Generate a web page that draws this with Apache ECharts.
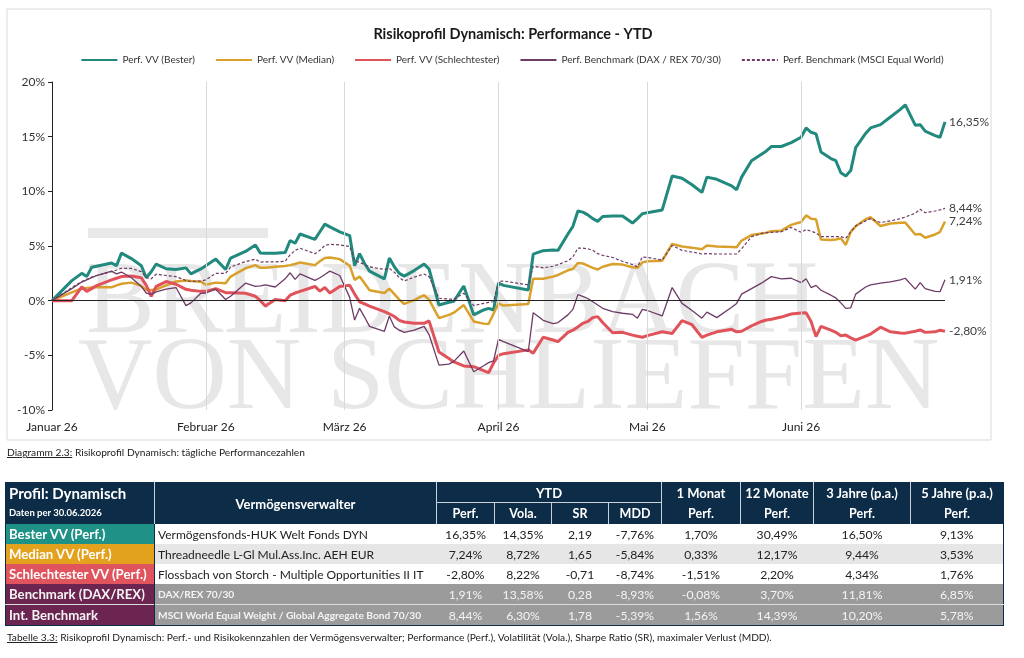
<!DOCTYPE html>
<html lang="de">
<head>
<meta charset="utf-8">
<title>Risikoprofil Dynamisch: Performance - YTD</title>
<script src="https://cdn.jsdelivr.net/npm/echarts@6/dist/echarts.min.js"></script>
<style>
  html, body { margin: 0; padding: 0; background: #fff; }
  body { width: 1024px; height: 658px; position: relative; overflow: hidden;
         font-family: Lato, 'Liberation Sans', sans-serif; }
  #chart { position: absolute; left: 0; top: 0; width: 1024px; height: 658px; }
  .cap { position: absolute; left: 7px; font-size: 10.2px; color: #222; white-space: nowrap; }
  #tbl { position: absolute; left: 5px; top: 482px; width: 998px; border-collapse: collapse;
         table-layout: fixed; border: 1px solid #0c2c47; }
  #tbl th { background: #0c2c47; color: #fff; font-weight: bold; padding: 0; text-align: center;
            border-left: 1px solid #c9d1d9; white-space: nowrap; overflow: hidden; }
  #tbl tr.h1 th { height: 19px; font-size: 13px; }
  #tbl tr.h2 th { height: 21px; font-size: 12.5px; }
  #tbl th.ytd { border-bottom: 1px solid #c9d1d9; }
  #tbl th.prof { text-align: left; padding-left: 3px; border-left: none; vertical-align: top; }
  #tbl th.vv { font-size: 15.5px; }
  .p1 { font-size: 15px; line-height: 19px; padding-top: 1px; }
  .p2 { font-size: 9.5px; line-height: 14px; margin-top: 3px; }
  #tbl td { height: 20px; padding: 0; font-size: 12.2px; text-align: center; white-space: nowrap;
            overflow: hidden; color: #222; }
  #tbl td.lab { color: #fff; font-weight: bold; font-size: 13.2px; text-align: left; padding-left: 3px;
                border-right: 1px solid #0c2c47; }
  #tbl td.nm { text-align: left; padding-left: 3px; font-size: 12px; }
  #tbl tr.med td { background: #e6e6e6; }
  #tbl tr.bm td { background: #9b9b9b; color: #f4f4f4; }
  #tbl tr.bm td.nm { font-size: 10.2px; font-weight: bold; }
  #tbl tr.int td { border-top: 1px solid #dcdcdc; }
</style>
</head>
<body>
<div id="chart"></div>
<div class="cap" style="top:446px"><u>Diagramm 2.3:</u> Risikoprofil Dynamisch: tägliche Performancezahlen</div>
<table id="tbl">
  <colgroup>
    <col style="width:149px"><col style="width:282px"><col style="width:58px"><col style="width:57px">
    <col style="width:57px"><col style="width:53px"><col style="width:79px"><col style="width:73px">
    <col style="width:97px"><col style="width:93px">
  </colgroup>
  <thead>
    <tr class="h1">
      <th rowspan="2" class="prof"><div class="p1">Profil: Dynamisch</div><div class="p2">Daten per 30.06.2026</div></th>
      <th rowspan="2" class="vv">Vermögensverwalter</th>
      <th colspan="4" class="ytd">YTD</th>
      <th>1 Monat</th><th>12 Monate</th><th>3 Jahre (p.a.)</th><th>5 Jahre (p.a.)</th>
    </tr>
    <tr class="h2">
      <th>Perf.</th><th>Vola.</th><th>SR</th><th>MDD</th>
      <th>Perf.</th><th>Perf.</th><th>Perf.</th><th>Perf.</th>
    </tr>
  </thead>
  <tbody id="tb"></tbody>
</table>
<div class="cap" style="top:631px"><u>Tabelle 3.3:</u> Risikoprofil Dynamisch: Perf.- und Risikokennzahlen der Vermögensverwalter; Performance (Perf.), Volatilität (Vola.), Sharpe Ratio (SR), maximaler Verlust (MDD).</div>

<script>
// Handelstage (2026), Werte in %
const dates = [
  '01-01','01-05','01-07','01-08','01-09','01-10','01-13','01-14','01-15','01-17',
  '01-19','01-20','01-21','01-22','01-24','01-26','01-28','01-29','01-31','02-01',
  '02-03','02-05','02-06','02-09','02-11','02-12','02-13','02-15','02-17','02-18',
  '02-19','02-20','02-23','02-24','02-25','02-26','02-28','03-02','03-03','03-04',
  '03-05','03-06','03-09','03-10','03-11','03-12','03-13','03-15','03-17','03-18',
  '03-20','03-22','03-23','03-25','03-27','03-29','03-30','03-31','04-01','04-02',
  '04-07','04-08','04-10','04-12','04-13','04-15','04-16','04-17','04-18','04-19',
  '04-20','04-21','04-22','04-24','04-26','04-28','04-29','04-30','05-01','05-04',
  '05-06','05-08','05-10','05-12','05-13','05-15','05-18','05-19','05-20','05-22',
  '05-24','05-25','05-26','05-28','05-30','06-01','06-02','06-03','06-04','06-05',
  '06-07','06-08','06-09','06-10','06-11','06-12','06-14','06-15','06-17','06-19',
  '06-21','06-22','06-24','06-25','06-26','06-28','06-29','06-30'
];

const perfBester = [
  0, 1.83, 2.5, 2.2, 3.05, 3.15, 3.45, 3.2, 4.35, 3.85,
  3.2, 2.1, 2.65, 3.35, 2.92, 2.85, 3.0, 2.45, 2.9, 3.2,
  3.8, 2.85, 3.9, 4.5, 5.1, 4.35, 4.33, 4.33, 4.4, 5.5,
  5.25, 6.1, 5.6, 6.3, 7.0, 6.75, 6.3, 5.95, 3.2, 4.3,
  3.4, 2.7, 2.0, 3.9, 3.1, 2.5, 2.25, 2.75, 3.35, 2.9,
  -0.4, -0.15, -0.05, 1.34, -1.3, -0.85, -0.7, -0.85, 1.6, 1.4,
  0.98, 4.25, 4.57, 4.64, 4.6, 6.1, 6.8, 8.2, 8.1, 7.85,
  7.5, 7.25, 7.7, 7.75, 7.75, 7.1, 7.5, 7.95, 8.05, 8.3,
  11.4, 11.2, 10.6, 9.9, 11.3, 11.1, 10.5, 10.15, 11.3, 12.8,
  13.4, 13.7, 14.1, 14.1, 14.45, 14.95, 15.8, 15.4, 15.25, 13.6,
  13.0, 12.8, 11.7, 11.4, 11.9, 14.0, 15.3, 15.8, 16.1, 16.8,
  17.5, 17.9, 16.05, 16.1, 15.5, 15.1, 14.95, 16.35
];

const perfMedian = [
  0, 0.75, 1.13, 1.15, 1.2, 1.22, 1.22, 1.4, 1.55, 1.65,
  1.35, 1.0, 0.97, 1.02, 1.4, 1.75, 1.85, 1.8, 1.74, 1.45,
  1.65, 1.6, 2.2, 2.96, 3.25, 3.0, 3.0, 3.1, 3.17, 3.25,
  3.35, 3.5, 3.25, 3.6, 3.9, 3.95, 3.8, 3.2, 1.9, 2.2,
  1.6, 0.95, 0.7, 1.1, 0.6, 0.1, -0.3, 0.05, 0.5, 0.1,
  -1.6, -1.3, -1.1, -0.4, -1.9, -2.1, -2.13, -1.2, -0.25, -0.45,
  -0.3, 2.0, 2.0, 2.2, 2.35, 2.78, 2.9, 3.45, 3.4, 3.2,
  3.0, 2.85, 3.1, 3.35, 3.3, 3.05, 3.0, 3.5, 3.6, 3.66,
  5.19, 4.95, 4.85, 4.7, 5.05, 4.95, 4.9, 4.88, 5.5, 6.0,
  6.15, 6.22, 6.35, 6.4, 6.93, 7.2, 7.8, 7.5, 7.45, 5.6,
  5.55, 5.6, 5.7, 5.1, 6.3, 6.8, 7.45, 7.63, 6.83, 7.05,
  7.12, 7.14, 6.05, 6.1, 5.75, 6.05, 6.3, 7.24
];

const perfSchlecht = [
  0, 0, 1.25, 0.85, 1.1, 1.38, 1.9, 2.05, 2.2, 2.25,
  2.1, 1.4, 0.4, 1.3, 1.75, 1.5, 1.04, 0.95, 0.85, 0.85,
  1.1, 0.73, 0.73, 0.68, 0.4, 0.0, -0.49, 0.1, 0.0, 0.5,
  0.7, 0.85, 1.3, 0.87, 1.2, 0.7, 1.3, 1.4, 0.6, -0.1,
  -0.3, -0.5, -1.0, -1.2, -1.45, -1.8, -1.95, -2.07, -2.07, -1.85,
  -4.7, -5.3, -5.6, -5.97, -6.04, -6.4, -6.59, -5.7, -5.0, -4.85,
  -4.5, -4.8, -3.35, -3.6, -3.75, -2.9, -2.7, -2.4, -2.07, -1.9,
  -1.55, -1.46, -2.0, -2.93, -2.9, -3.15, -3.25, -3.35, -3.2, -2.84,
  -3.0, -1.83, -2.2, -3.35, -3.15, -2.85, -2.62, -2.85, -2.8, -2.3,
  -1.9, -1.77, -1.7, -1.5, -1.22, -1.12, -1.1, -1.9, -3.29, -2.35,
  -2.7, -2.9, -3.2, -3.15, -3.4, -3.6, -3.25, -3.05, -2.43, -2.85,
  -2.95, -2.97, -2.8, -2.68, -2.9, -2.85, -2.7, -2.80
];

const perfDaxRex = [
  0, 1.1, 1.7, 1.9, 2.1, 2.3, 2.7, 2.45, 2.62, 2.1,
  1.3, 0.7, 0.57, 0.8, 1.05, 1.2, -0.45, -0.2, 0.67, 0.7,
  1.05, 0.1, 0.4, 1.6, 1.3, 1.35, 1.45, 1.25, 2.0, 2.55,
  1.95, 2.45, 1.85, 2.1, 2.4, 2.7, 2.3, 0.3, -1.77, -0.7,
  -1.5, -2.35, -2.8, -1.4, -2.4, -2.7, -2.9, -2.7, -2.35, -3.1,
  -5.9, -5.8, -5.55, -4.6, -6.5, -5.95, -5.67, -5.5, -3.53, -3.75,
  -4.67, -1.1, -1.8, -2.1, -2.0, -1.3, -0.8, 0.55, 0.4, 0.2,
  -0.1, -0.4, -0.7, -1.0, -1.15, -1.25, -1.6, -0.8, -0.9, -1.4,
  1.2, -0.25, -0.9, -1.6, -1.05, -1.55, -0.6, -0.25, 0.6, 1.1,
  1.6, 1.9, 2.2, 2.0, 2.05, 1.65, 2.0, 1.2, 1.4, 0.95,
  0.5, 0.25, -0.2, -0.7, -0.65, 0.6, 1.25, 1.44, 1.6, 1.72,
  1.9, 2.05, 1.05, 1.65, 1.1, 0.85, 0.82, 1.91
];

const perfMsci = [
  0, 1.2, 1.75, 1.95, 2.15, 2.3, 2.65, 2.8, 2.96, 2.95,
  2.65, 2.1, 2.0, 2.42, 2.3, 2.2, 1.85, 1.75, 1.8, 1.9,
  2.5, 2.5, 3.08, 3.57, 3.8, 3.52, 3.55, 3.55, 3.6, 4.2,
  4.6, 4.8, 4.3, 4.6, 5.05, 5.15, 5.1, 4.95, 3.7, 3.5,
  3.3, 3.1, 2.85, 2.95, 2.6, 2.1, 1.8, 2.15, 2.44, 2.2,
  0.22, 0.15, 0.13, 0.68, -0.45, -0.25, -0.15, -0.1, 1.74, 1.8,
  1.44, 3.15, 3.0, 3.15, 3.3, 3.65, 4.0, 4.8, 4.8, 4.75,
  4.6, 4.3, 4.15, 3.95, 3.6, 3.3, 3.1, 4.0, 3.95, 3.72,
  5.05, 4.6, 4.45, 4.27, 4.3, 4.27, 4.27, 4.27, 4.75, 5.85,
  6.15, 6.22, 6.25, 6.3, 6.7, 6.25, 6.5, 6.35, 6.2, 5.86,
  5.86, 5.86, 5.86, 5.72, 6.3, 6.85, 7.3, 7.5, 7.14, 7.3,
  7.5, 7.65, 8.0, 8.36, 8.05, 8.2, 8.3, 8.44
];

const monthNames = ['Januar', 'Februar', 'März', 'April', 'Mai', 'Juni'];
const monthStarts = ['2026-02-01', '2026-03-01', '2026-04-01', '2026-05-01', '2026-06-01'];

// Tabelle
const tableLabels = ['Bester VV (Perf.)', 'Median VV (Perf.)', 'Schlechtester VV (Perf.)', 'Benchmark (DAX/REX)', 'Int. Benchmark'];
const tableNames = ['Vermögensfonds-HUK Welt Fonds DYN', 'Threadneedle L-Gl Mul.Ass.Inc. AEH EUR',
  'Flossbach von Storch - Multiple Opportunities II IT', 'DAX/REX 70/30',
  'MSCI World Equal Weight / Global Aggregate Bond 70/30'];
const ytdPerf = ['16,35%', '7,24%', '-2,80%', '1,91%', '8,44%'];
const ytdVola = ['14,35%', '8,72%', '8,22%', '13,58%', '6,30%'];
const ytdSR = ['2,19', '1,65', '-0,71', '0,28', '1,78'];
const ytdMDD = ['-7,76%', '-5,84%', '-8,74%', '-8,93%', '-5,39%'];
const perf1M = ['1,70%', '0,33%', '-1,51%', '-0,08%', '1,56%'];
const perf12M = ['30,49%', '12,17%', '2,20%', '3,70%', '14,39%'];
const perf3J = ['16,50%', '9,44%', '4,34%', '11,81%', '10,20%'];
const perf5J = ['9,13%', '3,53%', '1,76%', '6,85%', '5,78%'];
const labelColors = ['#1f9186', '#e3a21d', '#e0555d', '#6c2450', '#6c2450'];
const rowClass = ['', 'med', '', 'bm', 'bm int'];

const FONT = "Lato, 'Liberation Sans', sans-serif";

// Tabelle aufbauen
const tb = document.getElementById('tb');
tableLabels.forEach((lab, i) => {
  const tr = document.createElement('tr');
  tr.className = rowClass[i];
  const cells = [ytdPerf[i], ytdVola[i], ytdSR[i], ytdMDD[i], perf1M[i], perf12M[i], perf3J[i], perf5J[i]];
  tr.innerHTML = '<td class="lab" style="background:' + labelColors[i] + '">' + lab + '</td>' +
    '<td class="nm">' + tableNames[i] + '</td>' +
    cells.map(c => '<td>' + c + '</td>').join('');
  tb.appendChild(tr);
});

function fmt(v) {
  return v.toFixed(2).replace('.', ',') + '%';
}

function makeSeries(name, values, color, width, dash) {
  return {
    name: name,
    type: 'line',
    data: dates.map((d, i) => ['2026-' + d, values[i]]),
    symbol: 'none',
    showSymbol: false,
    lineStyle: { color: color, width: width, type: dash || 'solid' },
    itemStyle: { color: color },
    endLabel: {
      show: true,
      formatter: p => fmt(p.value[1]),
      color: '#404040',
      fontSize: 12,
      fontFamily: FONT,
      distance: 4
    },
    z: 3
  };
}

const chart = echarts.init(document.getElementById('chart'));

const option = {
  animation: false,
  textStyle: { fontFamily: FONT },
  title: {
    text: 'Risikoprofil Dynamisch: Performance - YTD',
    left: 508,
    top: 22,
    textAlign: 'center',
    textStyle: { fontSize: 14.5, fontWeight: 'bold', color: '#1a1a1a', fontFamily: FONT }
  },
  legend: {
    top: 50,
    left: 'center',
    itemWidth: 36,
    itemHeight: 10,
    itemGap: 20,
    itemStyle: { opacity: 0 },
    data: ['Perf. VV (Bester)', 'Perf. VV (Median)', 'Perf. VV (Schlechtester)',
           'Perf. Benchmark (DAX / REX 70/30)', 'Perf. Benchmark (MSCI Equal World)'],
    textStyle: { fontSize: 10, color: '#333', fontFamily: FONT }
  },
  grid: { left: 52, right: 79, top: 82, bottom: 248, containLabel: false },
  xAxis: {
    type: 'time',
    min: '2026-01-01',
    max: '2026-06-30',
    maxInterval: 31 * 86400000,
    axisLine: { show: false },
    axisTick: { show: false },
    splitLine: { show: false },
    axisLabel: {
      fontSize: 12,
      color: '#222',
      margin: 11,
      fontFamily: FONT,
      formatter: function (value) {
        const d = new Date(value);
        return d.getDate() === 1 ? monthNames[d.getMonth()] + ' 26' : '';
      }
    }
  },
  yAxis: {
    type: 'value',
    min: -10,
    max: 20,
    interval: 5,
    axisLine: { show: true, lineStyle: { color: '#222', width: 1 } },
    axisTick: { show: true, length: 4, lineStyle: { color: '#222' } },
    splitLine: { show: false },
    axisLabel: { formatter: '{value}%', fontSize: 12, color: '#333', margin: 7, fontFamily: FONT }
  },
  graphic: [
    { type: 'rect', shape: { x: 7, y: 9, width: 984, height: 431 },
      style: { fill: 'none', stroke: '#d9d9d9', lineWidth: 1 }, z: 0, silent: true },
    { type: 'rect', shape: { x: 88, y: 228, width: 180, height: 10 },
      style: { fill: '#e8e8e8' }, z: 0, silent: true },
    { type: 'text', x: 86, y: 356, z: 0, silent: true,
      style: { text: 'BREIDENBACH', fill: '#e7e7e7', font: '103px "Liberation Serif", serif', verticalAlign: 'bottom' } },
    { type: 'text', x: 78, y: 432, z: 0, silent: true,
      style: { text: 'VON SCHLIEFFEN', fill: '#e7e7e7', font: '103px "Liberation Serif", serif', verticalAlign: 'bottom' } }
  ],
  series: [
    {
      name: 'raster',
      type: 'line',
      data: [],
      z: 1,
      silent: true,
      markLine: {
        silent: true,
        symbol: 'none',
        label: { show: false },
        data: monthStarts.map(m => ({ xAxis: m, lineStyle: { color: '#d9d9d9', width: 1, type: 'solid' } }))
          .concat([{ yAxis: 0, lineStyle: { color: '#222', width: 1, type: 'solid' } }])
      }
    },
    makeSeries('Perf. VV (Bester)', perfBester, '#22897e', 3),
    makeSeries('Perf. VV (Median)', perfMedian, '#d9a12c', 2.5),
    makeSeries('Perf. VV (Schlechtester)', perfSchlecht, '#e0535b', 3),
    makeSeries('Perf. Benchmark (DAX / REX 70/30)', perfDaxRex, '#6e3b66', 1.3),
    makeSeries('Perf. Benchmark (MSCI Equal World)', perfMsci, '#6e3b66', 1.2, [3, 2])
  ]
};

chart.setOption(option);
</script>
</body>
</html>
